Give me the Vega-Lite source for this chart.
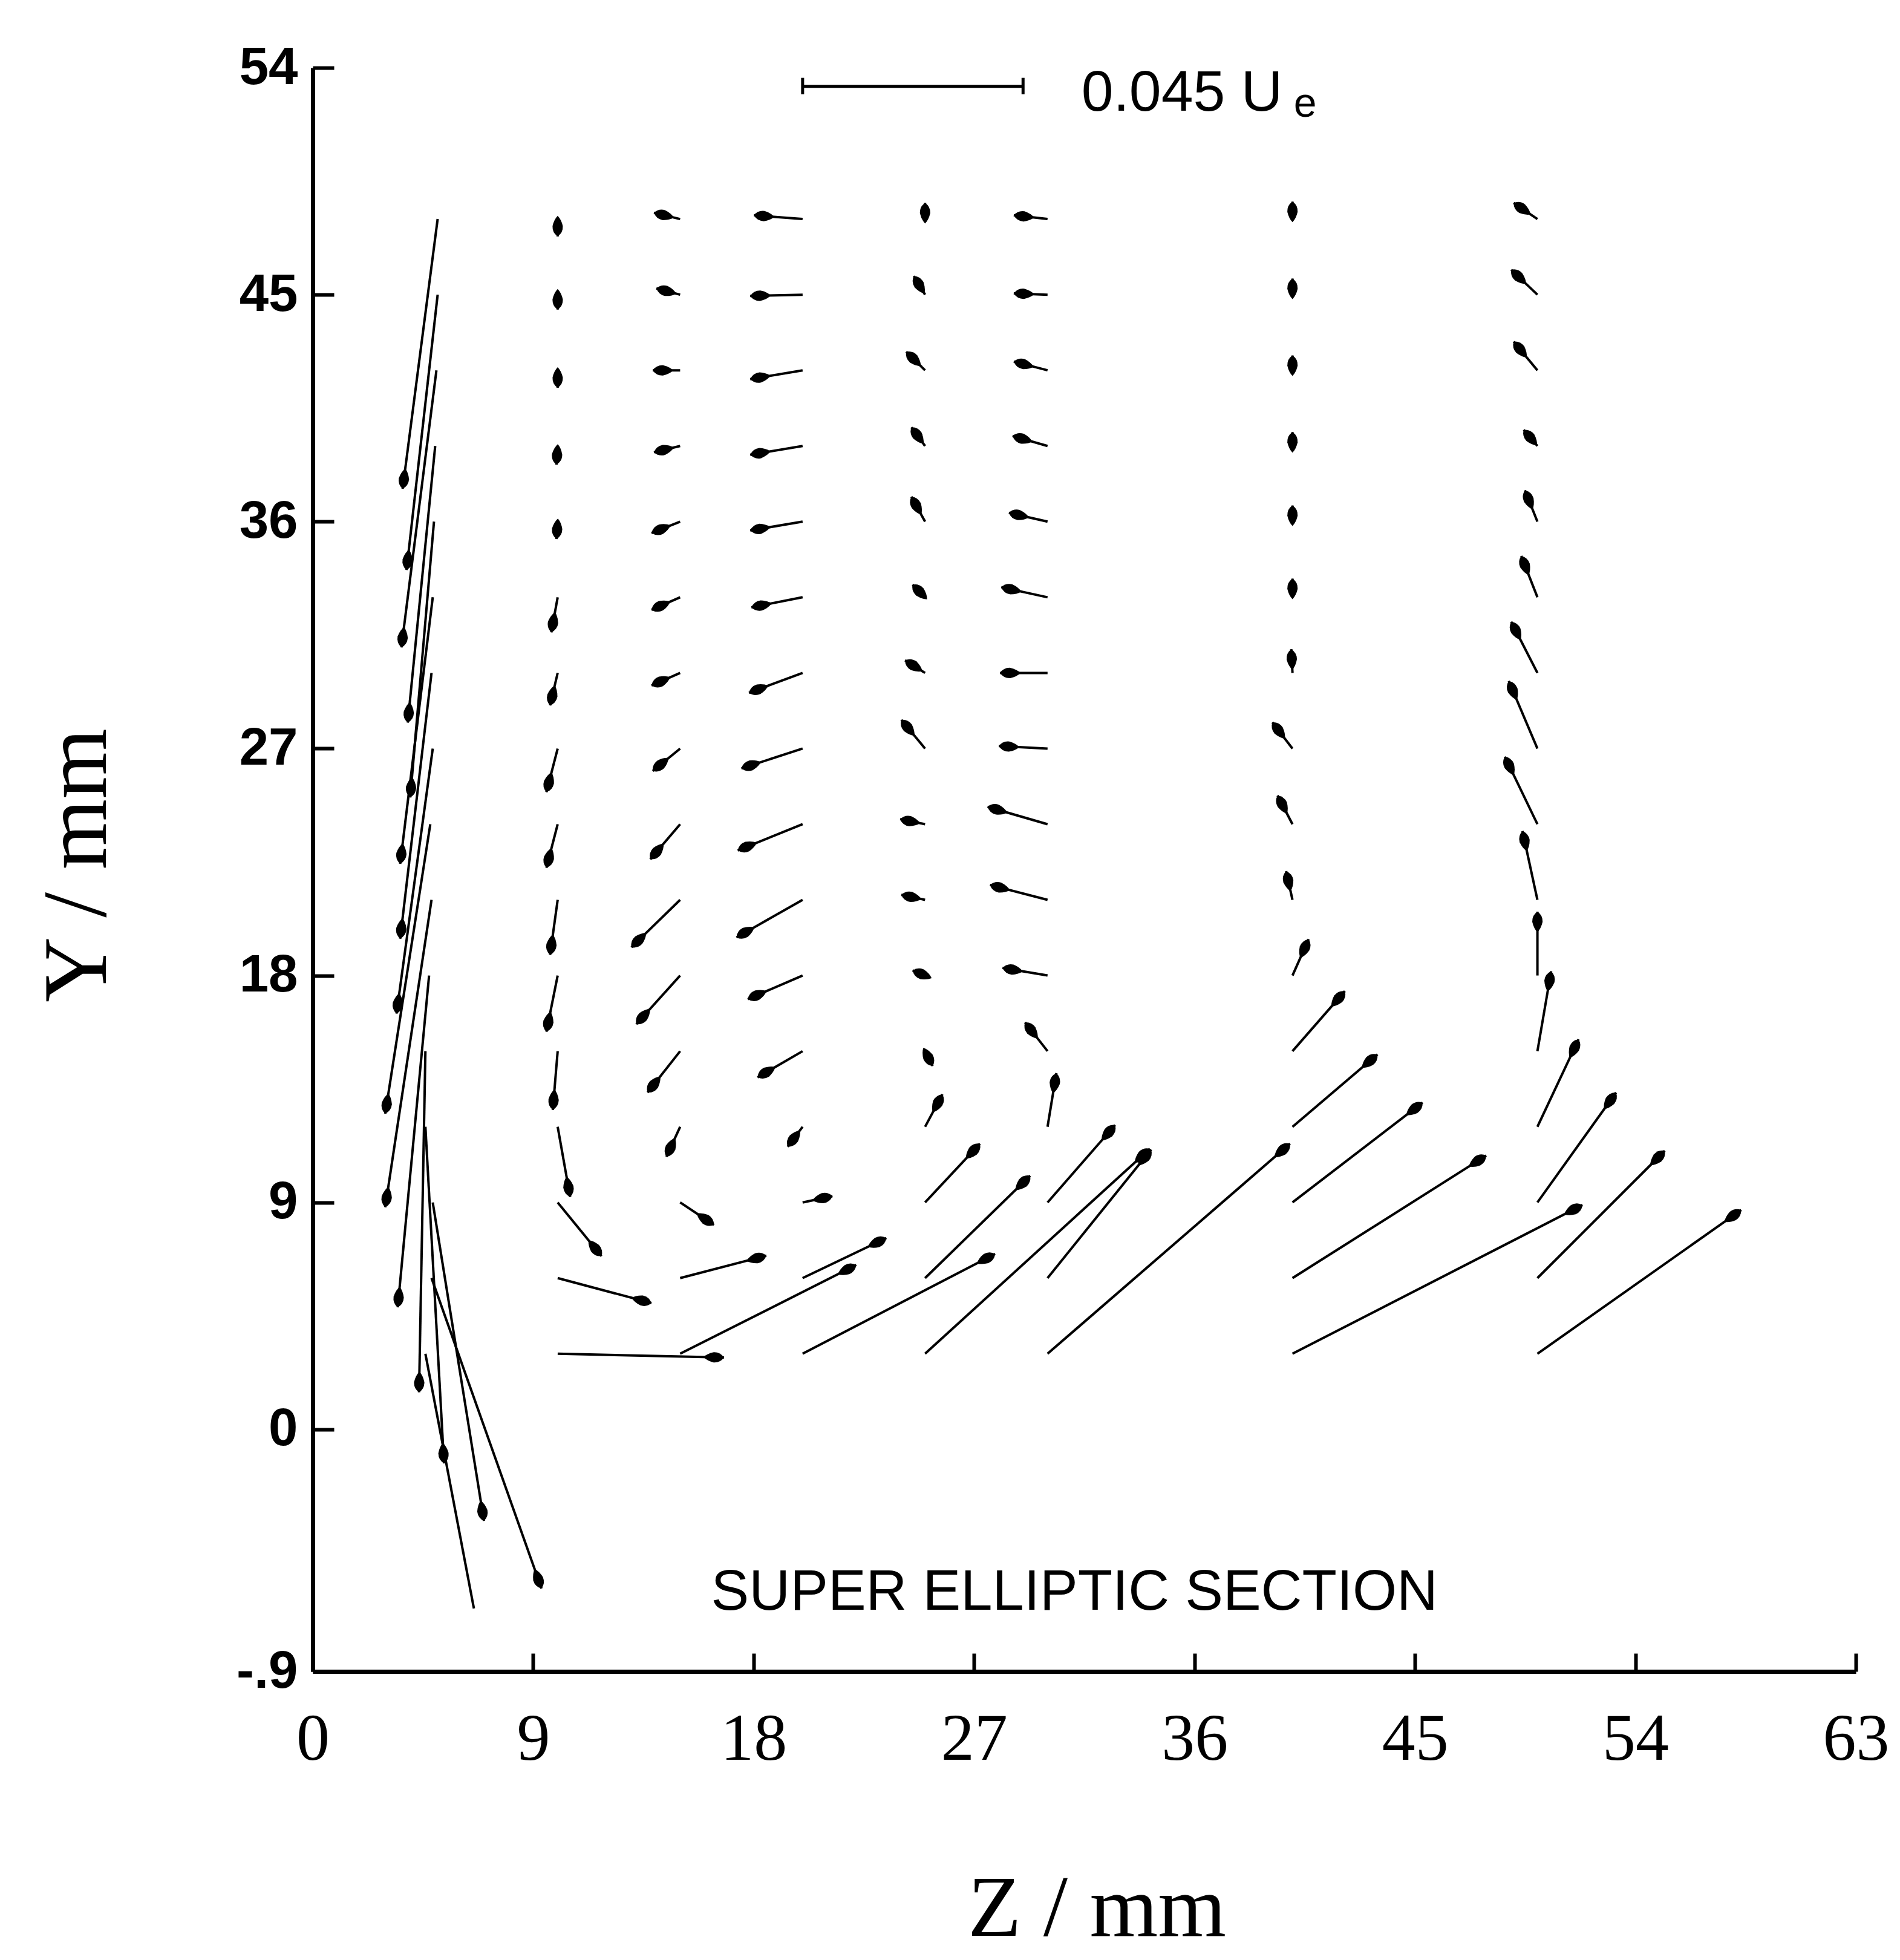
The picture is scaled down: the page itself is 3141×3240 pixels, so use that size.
{
  "$schema": "https://vega.github.io/schema/vega-lite/v6.json",
  "width": 2551,
  "height": 2651,
  "autosize": {"type": "none"},
  "padding": {"left": 517, "top": 112, "right": 73, "bottom": 477},
  "background": "white",
  "config": {"view": {"stroke": null}},
  "datasets": {
    "arrows": [
      {"z":5.1,"y":48,"z2":3.67,"y2":37.3},{"z":5.1,"y":45,"z2":3.83,"y2":34.08},{"z":5.05,"y":42,"z2":3.62,"y2":31.01},{"z":5,"y":39,"z2":3.88,"y2":28.03},{"z":4.95,"y":36,"z2":3.98,"y2":25.06},{"z":4.9,"y":33,"z2":3.57,"y2":22.43},{"z":4.85,"y":30,"z2":3.57,"y2":19.46},{"z":4.9,"y":27,"z2":3.42,"y2":16.49},{"z":4.8,"y":24,"z2":2.96,"y2":12.52},{"z":4.85,"y":21,"z2":2.96,"y2":8.81},{"z":4.75,"y":18,"z2":3.47,"y2":4.84},{"z":4.6,"y":15,"z2":4.34,"y2":1.47},{"z":4.6,"y":12,"z2":5.36,"y2":-1.35},{"z":4.9,"y":9,"z2":6.99,"y2":-3.63},{"z":4.85,"y":6,"z2":9.34,"y2":-6.31},
      {"z":10,"y":48,"z2":10,"y2":47.31},{"z":10,"y":45,"z2":10,"y2":44.41},{"z":10,"y":42,"z2":10,"y2":41.31},{"z":10,"y":39,"z2":9.95,"y2":38.26},{"z":10,"y":36,"z2":9.95,"y2":35.31},{"z":10,"y":33,"z2":9.74,"y2":31.61},{"z":10,"y":30,"z2":9.69,"y2":28.71},{"z":10,"y":27,"z2":9.54,"y2":25.27},{"z":10,"y":24,"z2":9.54,"y2":22.27},{"z":10,"y":21,"z2":9.69,"y2":18.82},{"z":10,"y":18,"z2":9.54,"y2":15.77},{"z":10,"y":15,"z2":9.8,"y2":12.67},{"z":10,"y":12,"z2":10.51,"y2":9.22},{"z":10,"y":9,"z2":11.79,"y2":6.87},{"z":10,"y":6,"z2":13.83,"y2":5.01},{"z":10,"y":3,"z2":16.79,"y2":2.85},
      {"z":15,"y":48,"z2":13.93,"y2":48.25},{"z":15,"y":45,"z2":14.03,"y2":45.25},{"z":15,"y":42,"z2":13.88,"y2":42},{"z":15,"y":39,"z2":13.93,"y2":38.75},{"z":15,"y":36,"z2":13.83,"y2":35.55},{"z":15,"y":33,"z2":13.83,"y2":32.5},{"z":15,"y":30,"z2":13.83,"y2":29.5},{"z":15,"y":27,"z2":13.88,"y2":26.11},{"z":15,"y":24,"z2":13.78,"y2":22.61},{"z":15,"y":21,"z2":13.01,"y2":19.12},{"z":15,"y":18,"z2":13.21,"y2":16.07},{"z":15,"y":15,"z2":13.67,"y2":13.36},{"z":15,"y":12,"z2":14.44,"y2":10.81},{"z":15,"y":9,"z2":16.38,"y2":8.11},{"z":15,"y":6,"z2":18.52,"y2":6.89},{"z":15,"y":3,"z2":22.19,"y2":6.52},
      {"z":20,"y":48,"z2":18.01,"y2":48.15},{"z":20,"y":45,"z2":17.86,"y2":44.95},{"z":20,"y":42,"z2":17.86,"y2":41.65},{"z":20,"y":39,"z2":17.86,"y2":38.65},{"z":20,"y":36,"z2":17.86,"y2":35.65},{"z":20,"y":33,"z2":17.91,"y2":32.6},{"z":20,"y":30,"z2":17.81,"y2":29.21},{"z":20,"y":27,"z2":17.5,"y2":26.21},{"z":20,"y":24,"z2":17.35,"y2":22.96},{"z":20,"y":21,"z2":17.3,"y2":19.51},{"z":20,"y":18,"z2":17.76,"y2":17.06},{"z":20,"y":15,"z2":18.16,"y2":13.96},{"z":20,"y":12,"z2":19.39,"y2":11.21},{"z":20,"y":9,"z2":21.22,"y2":9.25},{"z":20,"y":6,"z2":23.42,"y2":7.59},{"z":20,"y":3,"z2":27.86,"y2":6.96},
      {"z":25,"y":48,"z2":25,"y2":48.64},{"z":25,"y":45,"z2":24.54,"y2":45.74},{"z":25,"y":42,"z2":24.23,"y2":42.74},{"z":25,"y":39,"z2":24.44,"y2":39.74},{"z":25,"y":36,"z2":24.44,"y2":36.99},{"z":25,"y":33,"z2":24.49,"y2":33.5},{"z":25,"y":30,"z2":24.18,"y2":30.5},{"z":25,"y":27,"z2":24.03,"y2":28.14},{"z":25,"y":24,"z2":23.98,"y2":24.2},{"z":25,"y":21,"z2":24.03,"y2":21.2},{"z":25,"y":18,"z2":24.49,"y2":18.2},{"z":25,"y":15,"z2":25.31,"y2":14.41},{"z":25,"y":12,"z2":25.71,"y2":13.29},{"z":25,"y":9,"z2":27.24,"y2":11.33},{"z":25,"y":6,"z2":29.29,"y2":10.06},{"z":25,"y":3,"z2":34.18,"y2":11.13},
      {"z":30,"y":48,"z2":28.62,"y2":48.15},{"z":30,"y":45,"z2":28.62,"y2":45.05},{"z":30,"y":42,"z2":28.62,"y2":42.35},{"z":30,"y":39,"z2":28.57,"y2":39.4},{"z":30,"y":36,"z2":28.42,"y2":36.35},{"z":30,"y":33,"z2":28.11,"y2":33.4},{"z":30,"y":30,"z2":28.06,"y2":30},{"z":30,"y":27,"z2":28.01,"y2":27.1},{"z":30,"y":24,"z2":27.55,"y2":24.69},{"z":30,"y":21,"z2":27.65,"y2":21.59},{"z":30,"y":18,"z2":28.16,"y2":18.3},{"z":30,"y":15,"z2":29.08,"y2":16.14},{"z":30,"y":12,"z2":30.36,"y2":14.13},{"z":30,"y":9,"z2":32.76,"y2":12.07},{"z":30,"y":6,"z2":34.23,"y2":11.1},{"z":30,"y":3,"z2":39.9,"y2":11.33},
      {"z":40,"y":48,"z2":40,"y2":48.69},{"z":40,"y":45,"z2":40,"y2":45.64},{"z":40,"y":42,"z2":40,"y2":42.59},{"z":40,"y":39,"z2":40,"y2":39.55},{"z":40,"y":36,"z2":40,"y2":36.64},{"z":40,"y":33,"z2":40,"y2":33.74},{"z":40,"y":30,"z2":39.95,"y2":30.94},{"z":40,"y":27,"z2":39.18,"y2":28.04},{"z":40,"y":24,"z2":39.39,"y2":25.14},{"z":40,"y":21,"z2":39.74,"y2":22.14},{"z":40,"y":18,"z2":40.66,"y2":19.44},{"z":40,"y":15,"z2":42.14,"y2":17.38},{"z":40,"y":12,"z2":43.47,"y2":14.87},{"z":40,"y":9,"z2":45.31,"y2":12.96},{"z":40,"y":6,"z2":47.91,"y2":10.86},{"z":40,"y":3,"z2":51.84,"y2":8.9},
      {"z":50,"y":48,"z2":49.03,"y2":48.64},{"z":50,"y":45,"z2":48.93,"y2":45.99},{"z":50,"y":42,"z2":49.03,"y2":43.14},{"z":50,"y":39,"z2":49.44,"y2":39.64},{"z":50,"y":36,"z2":49.49,"y2":37.24},{"z":50,"y":33,"z2":49.34,"y2":34.64},{"z":50,"y":30,"z2":48.93,"y2":32.03},{"z":50,"y":27,"z2":48.83,"y2":29.68},{"z":50,"y":24,"z2":48.67,"y2":26.68},{"z":50,"y":21,"z2":49.39,"y2":23.73},{"z":50,"y":18,"z2":50,"y2":20.53},{"z":50,"y":15,"z2":50.56,"y2":18.17},{"z":50,"y":12,"z2":51.68,"y2":15.47},{"z":50,"y":9,"z2":53.21,"y2":13.36},{"z":50,"y":6,"z2":55.2,"y2":11.05},{"z":50,"y":3,"z2":58.32,"y2":8.7}
    ],
    "headless": [
      {"z":4.6,"y":3,"z2":6.58,"y2":-7.1}
    ],
    "scalebar": [
      {"z":20,"y":53.26,"z2":29,"y2":53.26},
      {"z":20,"y":52.95,"z2":20,"y2":53.6},
      {"z":29,"y":52.95,"z2":29,"y2":53.6}
    ],
    "legendtext": [{"z":31.38,"y":52.3,"label":"0.045 U"}],
    "legendsub": [{"z":40.05,"y":52.05,"label":"e"}],
    "caption": [{"z":31.1,"y":-7.15,"label":"SUPER ELLIPTIC SECTION"}]
  },
  "encoding": {
    "x": {
      "field": "z", "type": "quantitative",
      "scale": {"domain": [0, 63], "nice": false, "zero": false},
      "axis": {
        "values": [0, 9, 18, 27, 36, 45, 54, 63],
        "title": "Z / mm",
        "titleFont": "Liberation Serif", "titleFontSize": 145, "titleFontWeight": "normal", "titleColor": "black",
        "titleX": 1296, "titleY": 436, "titleBaseline": "alphabetic", "titleAlign": "center",
        "labelFont": "Liberation Serif", "labelFontSize": 110, "labelColor": "black",
        "labelBaseline": "alphabetic", "labelPadding": 175, "labelOverlap": false, "labelFlush": false,
        "tickSize": -30, "tickWidth": 6, "tickColor": "black",
        "domainWidth": 7, "domainColor": "black", "grid": false
      }
    },
    "y": {
      "field": "y", "type": "quantitative",
      "scale": {"domain": [-9.6, 54], "nice": false, "zero": false},
      "axis": {
        "values": [-9.6, 0, 9, 18, 27, 36, 45, 54],
        "labelExpr": "datum.value < -9 ? '-.9' : datum.label",
        "title": "Y / mm",
        "titleFont": "Liberation Serif", "titleFontSize": 150, "titleFontWeight": "normal", "titleColor": "black",
        "titleX": -343, "titleY": 1318, "titleAngle": 270, "titleBaseline": "alphabetic", "titleAlign": "center",
        "labelFont": "Liberation Sans", "labelFontSize": 87, "labelFontWeight": "bold", "labelColor": "black",
        "labelBaseline": "middle", "labelAlign": "right", "labelPadding": 60, "labelOverlap": false, "labelFlush": false,
        "tickSize": -35, "tickWidth": 6, "tickColor": "black",
        "domainWidth": 7, "domainColor": "black", "grid": false
      }
    }
  },
  "layer": [
    {
      "data": {"name": "arrows"},
      "mark": {"type": "rule", "color": "black", "strokeWidth": 4},
      "encoding": {
        "x2": {"field": "z2"},
        "y2": {"field": "y2"}
      }
    },
    {
      "data": {"name": "headless"},
      "mark": {"type": "rule", "color": "black", "strokeWidth": 4},
      "encoding": {
        "x2": {"field": "z2"},
        "y2": {"field": "y2"}
      }
    },
    {
      "data": {"name": "arrows"},
      "mark": {
        "type": "point", "filled": true, "color": "black", "opacity": 1, "size": 400,
        "shape": "M0,0 Q-0.6,-0.9 -1.7,-0.85 Q-2.8,-0.6 -3.4,0 Q-2.8,0.6 -1.7,0.85 Q-0.6,0.9 0,0 Z",
        "angle": {"expr": "atan2(scale('y', datum.y2) - scale('y', datum.y), scale('x', datum.z2) - scale('x', datum.z)) * 180 / PI"}
      },
      "encoding": {
        "x": {"field": "z2", "type": "quantitative"},
        "y": {"field": "y2", "type": "quantitative"}
      }
    },
    {
      "data": {"name": "scalebar"},
      "mark": {"type": "rule", "color": "black", "strokeWidth": 5},
      "encoding": {
        "x2": {"field": "z2"},
        "y2": {"field": "y2"}
      }
    },
    {
      "data": {"name": "legendtext"},
      "mark": {"type": "text", "font": "Liberation Sans", "fontSize": 95, "align": "left", "baseline": "alphabetic", "color": "black"},
      "encoding": {"text": {"field": "label"}}
    },
    {
      "data": {"name": "legendsub"},
      "mark": {"type": "text", "font": "Liberation Sans", "fontSize": 68, "align": "left", "baseline": "alphabetic", "color": "black"},
      "encoding": {"text": {"field": "label"}}
    },
    {
      "data": {"name": "caption"},
      "mark": {"type": "text", "font": "Liberation Sans", "fontSize": 94, "align": "center", "baseline": "alphabetic", "color": "black"},
      "encoding": {"text": {"field": "label"}}
    }
  ]
}
